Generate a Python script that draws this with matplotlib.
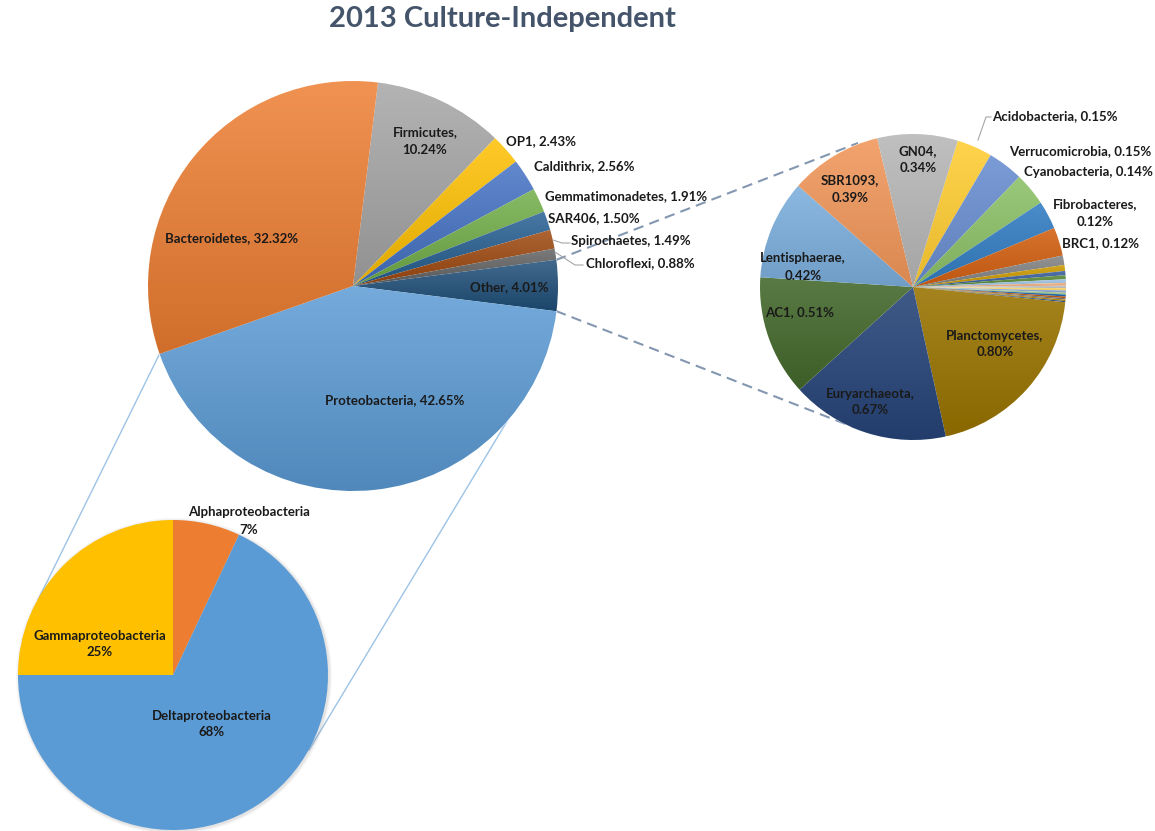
import numpy as np
import matplotlib
matplotlib.use("Agg")
import matplotlib.pyplot as plt
import matplotlib.colors as mcolors
from matplotlib.patches import Circle

# ---------------- data ----------------
main_labels = ["Firmicutes", "OP1", "Caldithrix", "Gemmatimonadetes", "SAR406",
               "Spirochaetes", "Chloroflexi", "Other", "Proteobacteria", "Bacteroidetes"]
main_values = [10.24, 2.43, 2.56, 1.91, 1.50, 1.49, 0.88, 4.01, 42.65, 32.32]
main_colors = ["#A5A5A5", "#FFC000", "#4472C4", "#70AD47", "#255E91",
               "#9E480E", "#636363", "#1F4E79", "#5B9BD5", "#ED7D31"]

other_labels = ["Acidobacteria", "Verrucomicrobia", "Cyanobacteria", "Fibrobacteres", "BRC1",
                "t1", "t2", "t3", "t4", "t5", "t6", "t7", "t8", "t9", "t10",
                "t11", "t12", "t13", "t14", "t15",
                "Planctomycetes", "Euryarchaeota", "AC1", "Lentisphaerae", "SBR1093", "GN04"]
other_values = [0.15, 0.15, 0.14, 0.12, 0.12,
                0.040, 0.025, 0.018, 0.017, 0.015, 0.012, 0.010, 0.010, 0.009, 0.008,
                0.008, 0.007, 0.006, 0.006, 0.005,
                0.80, 0.67, 0.51, 0.42, 0.39, 0.34]
other_colors = ["#FFCD33", "#698ED0", "#8CC168", "#327DC2", "#D26012",
                "#848484", "#CC9A00", "#3A5FA0", "#5A8A39", "#9DC3E6", "#F4B183",
                "#C9C9C9", "#FFD966", "#8FAADC", "#A9D18E", "#1F6BB5", "#C55A11",
                "#7B7B7B", "#BF9000", "#2F5597",
                "#997300", "#264478", "#43682B", "#7CAFDD", "#F1975A", "#B7B7B7"]

prot_labels = ["Alphaproteobacteria", "Deltaproteobacteria", "Gammaproteobacteria"]
prot_values = [7, 68, 25]
prot_colors = ["#ED7D31", "#5B9BD5", "#FFC000"]

# ---------------- layout ----------------
W, H = 1155, 831
def Y(y):
    return H - y

FONT = ["Lato", "DejaVu Sans"]
TXT = "#1a1a1a"

fig = plt.figure(figsize=(W / 100, H / 100), dpi=100)
ax = fig.add_axes([0, 0, 1, 1])
ax.set_axis_off()


def lighten(c, f):
    r = np.array(mcolors.to_rgb(c))
    return r + (1 - r) * f


def darken(c, f):
    return np.array(mcolors.to_rgb(c)) * f


def gradient_wedges(wedges, colors, light=0.16, dark=0.88):
    for w, c in zip(wedges, colors):
        cx, cy = w.center
        r = w.r
        th = np.radians(np.linspace(w.theta1, w.theta2, 60))
        xs = np.concatenate([[cx], cx + r * np.cos(th)])
        ys = np.concatenate([[cy], cy + r * np.sin(th)])
        x0, x1, y0, y1 = xs.min(), xs.max(), ys.min(), ys.max()
        if y1 - y0 < 1:
            y1 = y0 + 1
        top = lighten(c, light)
        bot = darken(c, dark)
        t = np.linspace(0, 1, 64)[:, None]
        img = bot[None, :] * (1 - t) + top[None, :] * t
        img = np.repeat(img[:, None, :], 2, axis=1)
        im = ax.imshow(img, extent=[x0, x1, y0, y1], origin="lower",
                       aspect="auto", zorder=w.get_zorder() + 0.1,
                       interpolation="bilinear")
        im.set_clip_path(w)
        w.set_facecolor("none")


# connector lines (under the pies)
ax.plot([160, 38], [Y(353), Y(600)], color="#9DC3E6", lw=1.0, zorder=1)
ax.plot([509, 309], [Y(418), Y(750)], color="#9DC3E6", lw=1.0, zorder=1)
ax.plot([556, 858], [Y(260), Y(143)], color="#8497B0", lw=1.5,
        dashes=(5, 3), zorder=1)
ax.plot([556, 866], [Y(311), Y(432)], color="#8497B0", lw=1.5,
        dashes=(5, 3), zorder=1)

# main pie
mw, _ = ax.pie(main_values, colors=main_colors, startangle=83, counterclock=False,
               center=(353, Y(286)), radius=205,
               wedgeprops=dict(edgecolor="white", linewidth=0.5), frame=True)
for w in mw:
    w.set_zorder(2)
gradient_wedges(mw, main_colors)

# right pie
ow, _ = ax.pie(other_values, colors=other_colors, startangle=73, counterclock=False,
               center=(913, Y(287)), radius=153,
               wedgeprops=dict(edgecolor="none", linewidth=0), frame=True)
for w, v in zip(ow, other_values):
    w.set_zorder(2)
    if v >= 0.1:
        w.set_edgecolor("white")
        w.set_linewidth(0.4)
gradient_wedges(ow, other_colors, light=0.12, dark=0.9)

# bottom pie with soft shadow
for i, a in enumerate([0.05, 0.07, 0.10]):
    ax.add_patch(Circle((174, Y(676)), 155 + 3 - i, color="#7f7f7f",
                        alpha=a, lw=0, zorder=1.5))
pw, _ = ax.pie(prot_values, colors=prot_colors, startangle=90, counterclock=False,
               center=(173, Y(675)), radius=155,
               wedgeprops=dict(edgecolor="none", linewidth=0), frame=True)
for w in pw:
    w.set_zorder(2)

# title
ax.text(502, Y(19), "2013 Culture-Independent", ha="center", va="center",
        fontsize=21, fontweight="bold", color="#44546A", family=FONT, zorder=5)

# data labels
lab = dict(ha="center", va="center", fontsize=9.5, fontweight="bold",
           color=TXT, family=FONT, zorder=6, linespacing=1.5)

def fmt(v, d=2):
    return f"{v:.{d}f}%"

mv = dict(zip(main_labels, main_values))
ov = dict(zip(other_labels, other_values))
pv = dict(zip(prot_labels, prot_values))

main_pos = {
    "Firmicutes": (425, 141, True),
    "OP1": (541, 141, False),
    "Caldithrix": (584, 166, False),
    "Gemmatimonadetes": (626, 196, False),
    "SAR406": (594, 218, False),
    "Spirochaetes": (631, 241, False),
    "Chloroflexi": (640, 263, False),
    "Other": (509, 287, False),
    "Proteobacteria": (395, 400, False),
    "Bacteroidetes": (232, 238, False),
}
for name, (x, y, two) in main_pos.items():
    sep = ",\n" if two else ", "
    ax.text(x, Y(y), f"{name}{sep}{fmt(mv[name])}", **lab)

other_pos = {
    "GN04": (918, 160, True),
    "SBR1093": (850, 189, True),
    "Lentisphaerae": (803, 267, True),
    "AC1": (800, 312, False),
    "Euryarchaeota": (870, 402, True),
    "Planctomycetes": (995, 344, True),
    "Acidobacteria": (1055, 116, False),
    "Verrucomicrobia": (1080, 151, False),
    "Cyanobacteria": (1088, 172, False),
    "Fibrobacteres": (1095, 213, True),
    "BRC1": (1100, 243, False),
}
for name, (x, y, two) in other_pos.items():
    sep = ",\n" if two else ", "
    ax.text(x, Y(y), f"{name}{sep}{fmt(ov[name])}", **lab)

prot_pos = {
    "Alphaproteobacteria": (249, 521),
    "Gammaproteobacteria": (100, 644),
    "Deltaproteobacteria": (212, 724),
}
for name, (x, y) in prot_pos.items():
    ax.text(x, Y(y), f"{name}\n{pv[name]}%", **lab)

# leader lines
lead = dict(color="#A6A6A6", lw=0.8, zorder=5)
ax.plot([553, 562, 570], [Y(240), Y(243), Y(243)], **lead)
ax.plot([555, 575, 583], [Y(252), Y(265), Y(265)], **lead)
ax.plot([978, 986, 991], [Y(140), Y(117), Y(117)], **lead)

ax.set_xlim(0, W)
ax.set_ylim(0, H)
ax.set_aspect("auto")
ax.set_position([0, 0, 1, 1])

fig.savefig("out.png", dpi=100, facecolor="white")
